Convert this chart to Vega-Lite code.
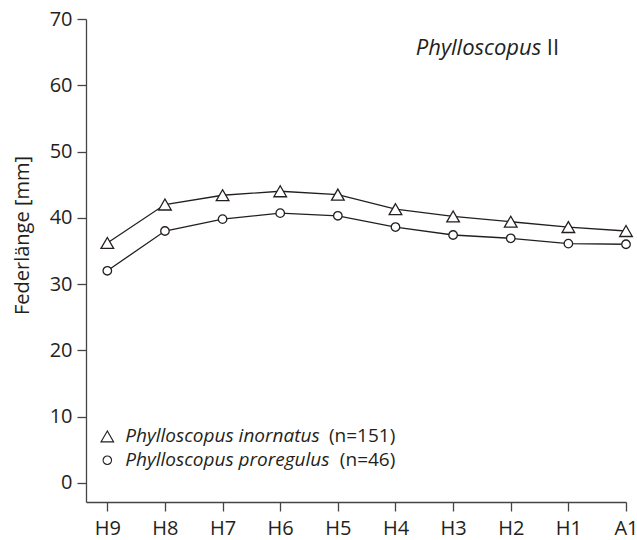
{
  "$schema": "https://vega.github.io/schema/vega-lite/v6.json",
  "width": 540,
  "height": 483,
  "autosize": "none",
  "padding": {"left": 86, "top": 19, "right": 11, "bottom": 38},
  "background": "white",
  "config": {
    "view": {"stroke": null},
    "font": "Open Sans",
    "axis": {
      "domainColor": "#444",
      "tickColor": "#444",
      "labelColor": "#231f20",
      "titleColor": "#231f20",
      "labelFont": "Open Sans",
      "titleFont": "Open Sans",
      "labelFontSize": 20,
      "titleFontSize": 20,
      "titleFontWeight": "normal",
      "tickSize": 9,
      "domainWidth": 1.3,
      "tickWidth": 1.3,
      "grid": false
    }
  },
  "datasets": {
    "series": [
      {"feather": "H9", "species": "inornatus", "length": 36.2},
      {"feather": "H8", "species": "inornatus", "length": 42.0},
      {"feather": "H7", "species": "inornatus", "length": 43.4},
      {"feather": "H6", "species": "inornatus", "length": 44.0},
      {"feather": "H5", "species": "inornatus", "length": 43.5},
      {"feather": "H4", "species": "inornatus", "length": 41.3},
      {"feather": "H3", "species": "inornatus", "length": 40.2},
      {"feather": "H2", "species": "inornatus", "length": 39.4},
      {"feather": "H1", "species": "inornatus", "length": 38.6},
      {"feather": "A1", "species": "inornatus", "length": 38.0},
      {"feather": "H9", "species": "proregulus", "length": 32.0},
      {"feather": "H8", "species": "proregulus", "length": 38.0},
      {"feather": "H7", "species": "proregulus", "length": 39.8},
      {"feather": "H6", "species": "proregulus", "length": 40.7},
      {"feather": "H5", "species": "proregulus", "length": 40.3},
      {"feather": "H4", "species": "proregulus", "length": 38.6},
      {"feather": "H3", "species": "proregulus", "length": 37.4},
      {"feather": "H2", "species": "proregulus", "length": 36.9},
      {"feather": "H1", "species": "proregulus", "length": 36.1},
      {"feather": "A1", "species": "proregulus", "length": 36.0}
    ],
    "legend": [
      {"feather": "H9", "species": "inornatus", "name": "Phylloscopus inornatus", "n": "(n=151)", "length": 7.0},
      {"feather": "H9", "species": "proregulus", "name": "Phylloscopus proregulus", "n": "(n=46)", "length": 3.4}
    ],
    "heading": [
      {"feather": "H2", "genus": "Phylloscopus", "group": "II", "length": 64.5}
    ]
  },
  "encoding": {
    "x": {
      "field": "feather",
      "type": "ordinal",
      "scale": {
        "type": "point",
        "domain": ["H9", "H8", "H7", "H6", "H5", "H4", "H3", "H2", "H1", "A1"],
        "padding": 0.185,
        "align": 1
      },
      "axis": {"title": null, "labelAngle": 0, "labelPadding": 7}
    },
    "y": {
      "field": "length",
      "type": "quantitative",
      "scale": {"domain": [-2.9, 70], "nice": false, "zero": false},
      "axis": {
        "title": "Federlänge [mm]",
        "values": [0, 10, 20, 30, 40, 50, 60, 70],
        "labelPadding": 5,
        "titlePadding": 17,
        "titleY": 216
      }
    }
  },
  "layer": [
    {
      "data": {"name": "series"},
      "mark": {"type": "line", "color": "#231f20", "strokeWidth": 1.3},
      "encoding": {"detail": {"field": "species"}}
    },
    {
      "data": {"name": "series"},
      "mark": {"type": "point", "filled": true, "fill": "white", "stroke": "#231f20", "strokeWidth": 1.3, "opacity": 1},
      "encoding": {
        "shape": {
          "field": "species",
          "type": "nominal",
          "scale": {"domain": ["inornatus", "proregulus"], "range": ["triangle-up", "circle"]},
          "legend": null
        },
        "size": {
          "field": "species",
          "type": "nominal",
          "scale": {"domain": ["inornatus", "proregulus"], "range": [160, 72]},
          "legend": null
        }
      }
    },
    {
      "data": {"name": "legend"},
      "mark": {"type": "point", "filled": true, "fill": "white", "stroke": "#231f20", "strokeWidth": 1.1, "opacity": 1},
      "encoding": {
        "shape": {
          "field": "species",
          "type": "nominal",
          "scale": {"domain": ["inornatus", "proregulus"], "range": ["triangle-up", "circle"]},
          "legend": null
        },
        "size": {
          "field": "species",
          "type": "nominal",
          "scale": {"domain": ["inornatus", "proregulus"], "range": [110, 56]},
          "legend": null
        }
      }
    },
    {
      "data": {"name": "legend"},
      "mark": {"type": "text", "align": "left", "baseline": "middle", "dx": 18, "fontSize": 19, "fontStyle": "italic", "color": "#231f20", "font": "Open Sans"},
      "encoding": {"text": {"field": "name"}}
    },
    {
      "data": {"name": "legend"},
      "mark": {"type": "text", "align": "right", "baseline": "middle", "dx": 288, "fontSize": 19, "color": "#231f20", "font": "Open Sans"},
      "encoding": {"text": {"field": "n"}}
    },
    {
      "data": {"name": "heading"},
      "mark": {"type": "text", "align": "right", "baseline": "alphabetic", "dx": 30.5, "fontSize": 22, "fontStyle": "italic", "color": "#231f20", "font": "Open Sans"},
      "encoding": {"text": {"field": "genus"}}
    },
    {
      "data": {"name": "heading"},
      "mark": {"type": "text", "align": "left", "baseline": "alphabetic", "dx": 36, "fontSize": 22, "color": "#231f20", "font": "Open Sans"},
      "encoding": {"text": {"field": "group"}}
    }
  ]
}
